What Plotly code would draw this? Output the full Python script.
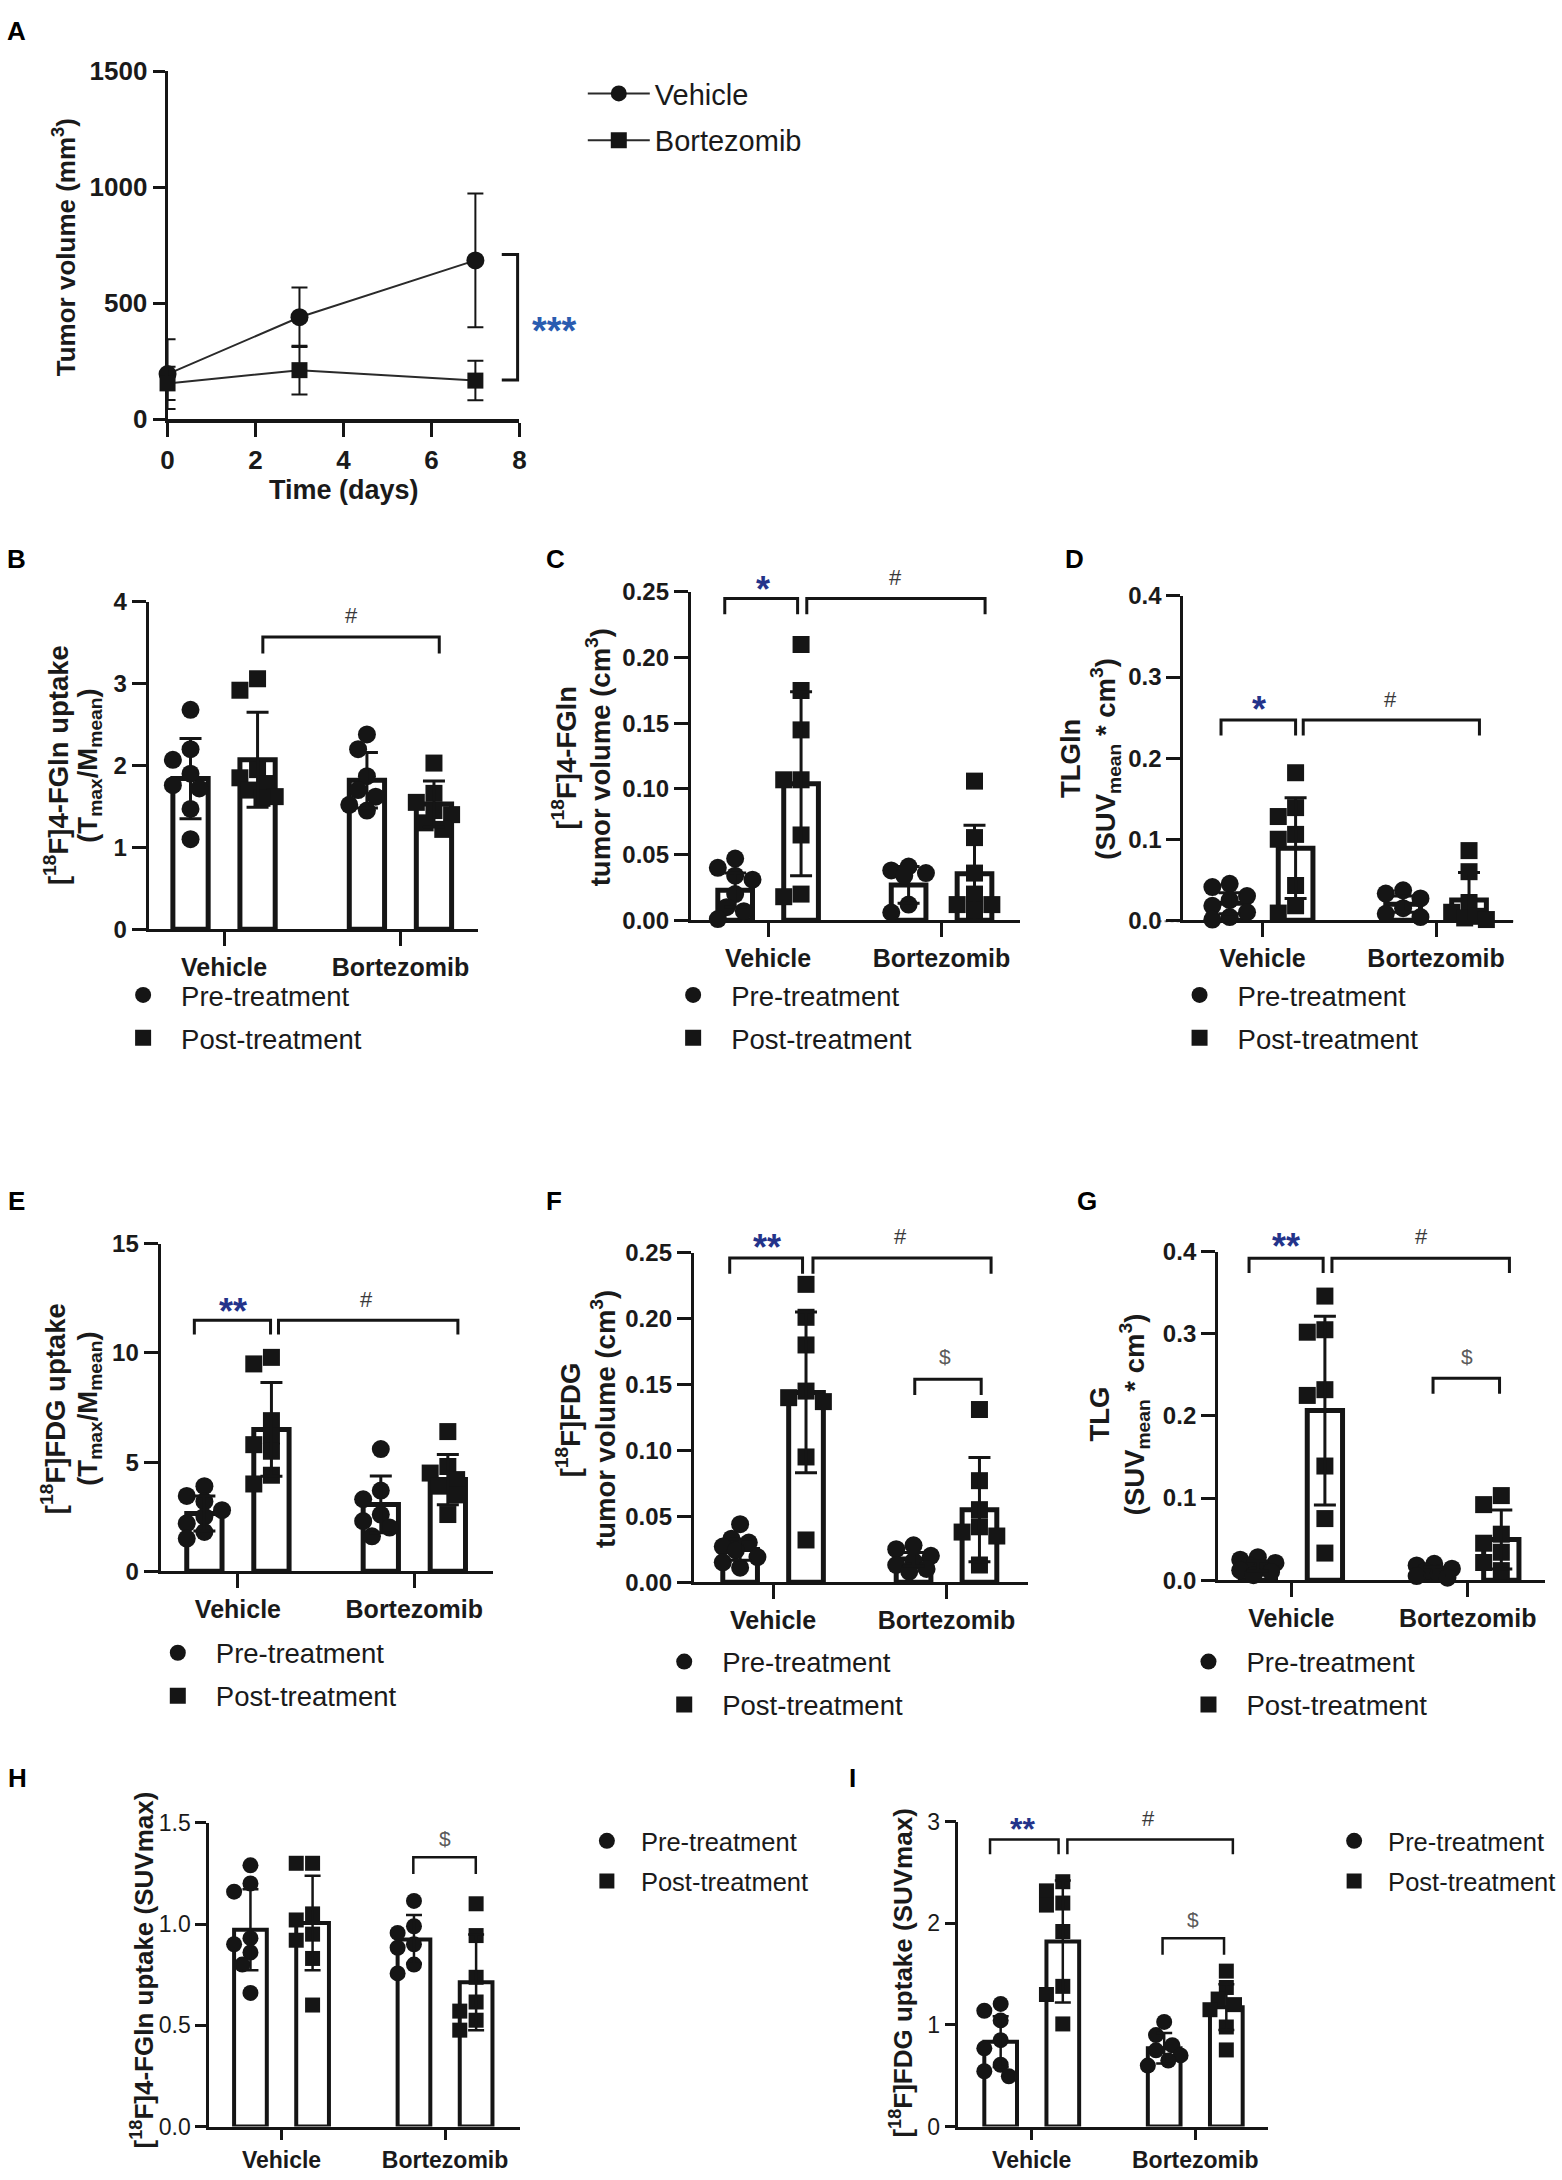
import plotly.graph_objects as go

W, H = 1562, 2180
FONT = "Liberation Sans, Arial, Helvetica, sans-serif"
INK = "#151515"
TXT = "#1a1a1a"
STAR_A = "#2a5cb0"
STAR = "#23338a"
HASH = "#3a3a3a"
DOLLAR = "#5a5a5a"

GROUPS = ["Vehicle", "Bortezomib"]
SERIES = ["Pre-treatment", "Post-treatment"]

# ---------------- Panel A : tumour volume over time ----------------
A_days = [0, 3, 7]
A_vehicle_mean = [195, 440, 685]
A_vehicle_sd = [150, 128, 288]
A_bortezomib_mean = [155, 212, 167]
A_bortezomib_sd = [72, 105, 85]

# ---------------- Panel B : [18F]4-FGln uptake (Tmax/Mmean) ----------------
B_vehicle_pre = [2.68, 2.20, 2.07, 1.90, 1.76, 1.72, 1.47, 1.10]
B_vehicle_post = [3.06, 2.92, 1.95, 1.85, 1.78, 1.70, 1.62, 1.60]
B_bortezomib_pre = [2.38, 2.20, 1.87, 1.70, 1.62, 1.52, 1.45]
B_bortezomib_post = [2.03, 1.66, 1.55, 1.45, 1.40, 1.30, 1.22]
B_mean = [1.84, 2.07, 1.82, 1.53]
B_sd = [0.49, 0.58, 0.34, 0.28]

# ---------------- Panel C : [18F]4-FGln tumour volume ----------------
C_vehicle_pre = [0.047, 0.040, 0.034, 0.031, 0.020, 0.010, 0.007, 0.001]
C_vehicle_post = [0.210, 0.175, 0.145, 0.107, 0.107, 0.065, 0.020, 0.018]
C_bortezomib_pre = [0.041, 0.038, 0.036, 0.034, 0.012, 0.006]
C_bortezomib_post = [0.106, 0.063, 0.036, 0.020, 0.012, 0.012, 0.008]
C_mean = [0.023, 0.104, 0.027, 0.0355]
C_sd = [0.013, 0.070, 0.014, 0.037]

# ---------------- Panel D : TLGln ----------------
D_vehicle_pre = [0.045, 0.041, 0.030, 0.025, 0.018, 0.010, 0.004, 0.001]
D_vehicle_post = [0.182, 0.139, 0.128, 0.106, 0.100, 0.043, 0.018, 0.009]
D_bortezomib_pre = [0.037, 0.033, 0.027, 0.015, 0.008, 0.004]
D_bortezomib_post = [0.086, 0.060, 0.022, 0.010, 0.005, 0.003, 0.001]
D_mean = [0.021, 0.089, 0.020, 0.025]
D_sd = [0.013, 0.062, 0.010, 0.034]

# ---------------- Panel E : [18F]FDG uptake (Tmax/Mmean) ----------------
E_vehicle_pre = [3.9, 3.45, 3.2, 2.8, 2.5, 2.2, 1.8, 1.5]
E_vehicle_post = [9.8, 9.5, 6.9, 6.2, 5.8, 5.5, 4.4, 4.0]
E_bortezomib_pre = [5.6, 3.7, 3.3, 2.6, 2.3, 2.0, 1.6]
E_bortezomib_post = [6.4, 4.8, 4.5, 4.2, 3.9, 3.5, 2.6]
E_mean = [2.65, 6.5, 3.06, 4.2]
E_sd = [0.8, 2.15, 1.3, 1.15]

# ---------------- Panel F : [18F]FDG tumour volume ----------------
F_vehicle_pre = [0.044, 0.033, 0.030, 0.027, 0.024, 0.019, 0.015, 0.011]
F_vehicle_post = [0.226, 0.201, 0.180, 0.145, 0.140, 0.137, 0.095, 0.032]
F_bortezomib_pre = [0.028, 0.025, 0.020, 0.016, 0.013, 0.010, 0.008]
F_bortezomib_post = [0.131, 0.077, 0.055, 0.042, 0.038, 0.035, 0.013]
F_mean = [0.0247, 0.144, 0.0175, 0.055]
F_sd = [0.008, 0.061, 0.005, 0.0395]

# ---------------- Panel G : TLG ----------------
G_vehicle_pre = [0.028, 0.025, 0.021, 0.018, 0.015, 0.012, 0.010, 0.006]
G_vehicle_post = [0.346, 0.305, 0.302, 0.232, 0.225, 0.139, 0.075, 0.033]
G_bortezomib_pre = [0.020, 0.018, 0.014, 0.011, 0.008, 0.005, 0.003]
G_bortezomib_post = [0.103, 0.092, 0.056, 0.045, 0.034, 0.0215, 0.0116]
G_mean = [0.0172, 0.2065, 0.0108, 0.0495]
G_sd = [0.006, 0.115, 0.005, 0.036]

# ---------------- Panel H : [18F]4-FGln SUVmax ----------------
H_vehicle_pre = [1.29, 1.20, 1.16, 0.93, 0.90, 0.86, 0.80, 0.66]
H_vehicle_post = [1.30, 1.30, 1.05, 1.02, 0.95, 0.92, 0.83, 0.60]
H_bortezomib_pre = [1.114, 0.989, 0.956, 0.90, 0.883, 0.80, 0.756]
H_bortezomib_post = [1.10, 0.943, 0.737, 0.615, 0.57, 0.525, 0.476]
H_mean = [0.972, 1.005, 0.924, 0.712]
H_sd = [0.20, 0.233, 0.12, 0.236]

# ---------------- Panel I : [18F]FDG SUVmax ----------------
I_vehicle_pre = [1.207, 1.14, 1.045, 0.85, 0.77, 0.608, 0.544, 0.495]
I_vehicle_post = [2.41, 2.32, 2.20, 2.18, 1.92, 1.38, 1.30, 1.01]
I_bortezomib_pre = [1.03, 0.90, 0.80, 0.75, 0.70, 0.65, 0.60]
I_bortezomib_post = [1.53, 1.369, 1.255, 1.20, 1.15, 0.98, 0.754]
I_mean = [0.835, 1.822, 0.77, 1.175]
I_sd = [0.25, 0.60, 0.15, 0.225]

SUP18 = "[<sup>18</sup>F]"

# ---------------- layout (positions/styles only) ----------------
BAR_PANELS = [
    dict(key="B", data=(B_vehicle_pre, B_vehicle_post, B_bortezomib_pre, B_bortezomib_post), mean=B_mean, sd=B_sd,
         box=(143, 475, 595, 927), cat=(219, 397), yr=(0, 4), dtick=1, fmt="", letter=(10, 552),
         titles=[(SUP18 + "4-FGln uptake", 50), ("(T<sub>max</sub>/M<sub>mean</sub>)", 83)], ty=761,
         legend=(137, 994, 1037), brackets=[(0.22, 1.22, 3.57, 3.37)], labels=[("#", 0.725, 3.84)], small=False),
    dict(key="C", data=(C_vehicle_pre, C_vehicle_post, C_bortezomib_pre, C_bortezomib_post), mean=C_mean, sd=C_sd,
         box=(690, 1022, 585, 918), cat=(768, 943), yr=(0, 0.25), dtick=0.05, fmt=".2f", letter=(553, 552),
         titles=[(SUP18 + "4-FGln", 563), ("tumor volume (cm<sup>3</sup>)", 597)], ty=753,
         legend=(692, 994, 1037),
         brackets=[(-0.25, 0.17, 0.245, 0.233), (0.223, 1.251, 0.245, 0.233)],
         labels=[("*", -0.03, 0.2586), ("#", 0.737, 0.2617)], small=False),
    dict(key="D", data=(D_vehicle_pre, D_vehicle_post, D_bortezomib_pre, D_bortezomib_post), mean=D_mean, sd=D_sd,
         box=(1187, 1520, 589, 918), cat=(1267, 1442), yr=(0, 0.4), dtick=0.1, fmt=".1f", letter=(1077, 552),
         titles=[("TLGln", 1073), ("(SUV<sub>mean</sub> * cm<sup>3</sup>)", 1108)], ty=754,
         legend=(1203, 994, 1037),
         brackets=[(-0.24, 0.19, 0.247, 0.228), (0.234, 1.25, 0.247, 0.228)],
         labels=[("*", -0.02, 0.27), ("#", 0.737, 0.274)], small=False, dotted=True),
    dict(key="E", data=(E_vehicle_pre, E_vehicle_post, E_bortezomib_pre, E_bortezomib_post), mean=E_mean, sd=E_sd,
         box=(155, 490, 1246, 1578), cat=(233, 411), yr=(0, 15), dtick=5, fmt="", letter=(10, 1203),
         titles=[(SUP18 + "FDG uptake", 47), ("(T<sub>max</sub>/M<sub>mean</sub>)", 83)], ty=1413,
         legend=(172, 1661, 1704),
         brackets=[(-0.247, 0.185, 11.5, 10.85), (0.23, 1.247, 11.5, 10.85)],
         labels=[("**", -0.03, 12.3), ("#", 0.73, 12.5)], small=False),
    dict(key="F", data=(F_vehicle_pre, F_vehicle_post, F_bortezomib_pre, F_bortezomib_post), mean=F_mean, sd=F_sd,
         box=(693, 1030, 1255, 1589), cat=(773, 948), yr=(0, 0.25), dtick=0.05, fmt=".2f", letter=(552, 1203),
         titles=[(SUP18 + "FDG", 567), ("tumor volume (cm<sup>3</sup>)", 602)], ty=1424,
         legend=(683, 1670, 1713),
         brackets=[(-0.25, 0.17, 0.246, 0.234), (0.23, 1.257, 0.246, 0.234), (0.817, 1.2, 0.154, 0.142)],
         labels=[("**", -0.034, 0.2605), ("#", 0.737, 0.263), ("$", 0.994, 0.172)], small=False),
    dict(key="G", data=(G_vehicle_pre, G_vehicle_post, G_bortezomib_pre, G_bortezomib_post), mean=G_mean, sd=G_sd,
         box=(1222, 1552, 1254, 1587), cat=(1296, 1474), yr=(0, 0.4), dtick=0.1, fmt=".1f", letter=(1090, 1203),
         titles=[("TLG", 1102), ("(SUV<sub>mean</sub> * cm<sup>3</sup>)", 1138)], ty=1419,
         legend=(1212, 1670, 1713),
         brackets=[(-0.24, 0.18, 0.392, 0.374), (0.23, 1.236, 0.392, 0.374), (0.803, 1.18, 0.246, 0.227)],
         labels=[("**", -0.03, 0.417), ("#", 0.736, 0.42), ("$", 0.994, 0.2735)], small=False),
    dict(key="H", data=(H_vehicle_pre, H_vehicle_post, H_bortezomib_pre, H_bortezomib_post), mean=H_mean, sd=H_sd,
         box=(204, 518, 1833, 2141), cat=(277, 442), yr=(0, 1.5), dtick=0.5, fmt=".1f", letter=(11, 1788),
         titles=[(SUP18 + "4-FGln uptake (SUVmax)", 137)], ty=1982,
         legend=(605, 1852, 1892), brackets=[(0.806, 1.188, 1.33, 1.247)], labels=[("$", 1.0, 1.425)], small=True),
    dict(key="I", data=(I_vehicle_pre, I_vehicle_post, I_bortezomib_pre, I_bortezomib_post), mean=I_mean, sd=I_sd,
         box=(960, 1272, 1832, 2141), cat=(1034, 1199), yr=(0, 3), dtick=1, fmt="", letter=(853, 1788),
         titles=[(SUP18 + "FDG uptake (SUVmax)", 903)], ty=1985,
         legend=(1359, 1852, 1892),
         brackets=[(-0.255, 0.164, 2.825, 2.68), (0.218, 1.23, 2.825, 2.68), (0.8, 1.176, 1.854, 1.69)],
         labels=[("**", -0.055, 3.0), ("#", 0.715, 3.04), ("$", 0.988, 2.05)], small=True),
]

OFF = 0.19

fig = go.Figure()
L = dict(width=W, height=H, margin=dict(l=0, r=0, t=0, b=0), paper_bgcolor="white",
         plot_bgcolor="white", hovermode=False, showlegend=True)
shapes, annots = [], []


def X(px):
    return px / W


def Y(py):
    return 1 - py / H


def text(px, py, s, size, color=TXT, angle=0, bold=False):
    annots.append(dict(xref="paper", yref="paper", x=X(px), y=Y(py), text=s, showarrow=False,
                       textangle=angle, xanchor="center", yanchor="middle",
                       font=dict(family=FONT, size=size, color=color, weight="bold" if bold else "normal")))


def path(pts, width, color=INK, dash=None, layer="above"):
    d = "M " + " L ".join(f"{X(a):.6f},{Y(b):.6f}" for a, b in pts)
    ln = dict(color=color, width=width)
    if dash:
        ln["dash"] = dash
    shapes.append(dict(type="path", xref="paper", yref="paper", path=d, line=ln, layer=layer))


def axis_style(lw, tl, tw, size, bold):
    return dict(showline=True, linecolor=INK, linewidth=lw, ticks="outside", ticklen=tl, tickwidth=tw,
                tickcolor=INK, showgrid=False, zeroline=False, fixedrange=True,
                tickfont=dict(family=FONT, size=size, color=TXT, weight="bold" if bold else "normal"))


def legend_cfg(sym_x, r1, r2, size, itemwidth, gap):
    return dict(x=X(sym_x - 5 - itemwidth / 2), xanchor="left", y=Y((r1 + r2) / 2), yanchor="middle",
                font=dict(family=FONT, size=size, color=TXT), itemwidth=itemwidth, tracegroupgap=gap,
                bgcolor="rgba(0,0,0,0)", borderwidth=0, orientation="v", itemsizing="trace",
                traceorder="grouped")


# ================= Panel A =================
A_X0, A_X1, A_YT, A_YB = 162, 517, 57, 410
xa = axis_style(4, 14, 3, 26, True)
xa.update(domain=[X(A_X0), X(A_X1)], range=[0, 8], tickvals=[0, 2, 4, 6, 8], anchor="y", tickangle=0)
ya = axis_style(3, 12, 3, 26, True)
ya.update(domain=[Y(A_YB), Y(A_YT)], range=[0, 1500], tickvals=[0, 500, 1000, 1500], anchor="x")
L["xaxis"], L["yaxis"] = xa, ya

for name, mean, sd, sym, size in [("Vehicle", A_vehicle_mean, A_vehicle_sd, "circle", 18),
                                  ("Bortezomib", A_bortezomib_mean, A_bortezomib_sd, "square", 16)]:
    fig.add_trace(go.Scatter(x=A_days, y=mean, name=name, mode="lines+markers",
                             line=dict(color="#2a2a2a", width=2), marker=dict(symbol=sym, size=size, color=INK),
                             error_y=dict(type="data", array=sd, color=INK, thickness=2, width=8),
                             xaxis="x", yaxis="y", legend="legend", legendgroup="A" + name, cliponaxis=False))
L["legend"] = legend_cfg(617, 80, 127, 29, 62, 6)


def A_px(u, v):
    return A_X0 + u / 8 * (A_X1 - A_X0), A_YB - v / 1500 * (A_YB - A_YT)


pts = [A_px(7.6, 710), A_px(7.96, 710), A_px(7.96, 170), A_px(7.6, 170)]
path(pts, 3)
text(552, 320, "<b>***</b>", 38, STAR_A)
text(10, 16, "<b>A</b>", 26, "black")
text(58, 235, "<b>Tumor volume (mm<sup>3</sup>)</b>", 26, TXT, -90)
text(340, 482, "<b>Time (days)</b>", 27)


# ================= bar panels =================
def spread(vals, ppx, ppy, size):
    cands = [0, -0.05, 0.05, -0.1, 0.1, -0.025, 0.025, -0.075, 0.075]
    placed, offs = [], []
    for v in vals:
        best, bestd = 0, -1.0
        for c in cands:
            if placed:
                d = min((((c - o) * ppx) ** 2 + ((v - w) * ppy) ** 2) ** 0.5 for o, w in placed)
            else:
                d = 1e9
            if d >= size * 0.85:
                best = c
                break
            if d > bestd:
                best, bestd = c, d
        placed.append((best, v))
        offs.append(best)
    return offs


for i, P in enumerate(BAR_PANELS, start=2):
    s = str(i)
    xr, yr = "x" + s, "y" + s
    x0, x1, yt, yb = P["box"]
    cv, cb = P["cat"]
    ppx = cb - cv
    xrange = [(x0 - cv) / ppx, (x1 - cv) / ppx]
    y0r, y1r = P["yr"]
    ppy = (yb - yt) / (y1r - y0r)
    small = P["small"]

    lw = 2.5 if small else 3
    xa = axis_style(lw, 11 if small else 14, lw, 23 if small else 25, True)
    xa.update(domain=[X(x0), X(x1)], range=xrange, tickvals=[0, 1], ticktext=GROUPS, anchor=yr, tickangle=0)
    ya = axis_style(lw, 11 if small else 14, lw, 23 if small else 24, not small)
    ya.update(domain=[Y(yb), Y(yt)], range=[y0r, y1r], tick0=0, dtick=P["dtick"], tickformat=P["fmt"], anchor=xr)
    L["xaxis" + s], L["yaxis" + s] = xa, ya

    pos = [-OFF, OFF, 1 - OFF, 1 + OFF]
    fig.add_trace(go.Bar(x=pos, y=P["mean"], width=0.2, xaxis=xr, yaxis=yr, showlegend=False,
                         marker=dict(color="white", line=dict(color=INK, width=4 if small else 5))))

    vp, vq, bp, bq = P["data"]
    msize = 16 if small else 18
    for k, (sym, grp_a, grp_b) in enumerate([("circle", vp, bp), ("square", vq, bq)]):
        xs, ys = [], []
        for base, vals in [(pos[k], grp_a), (pos[k + 2], grp_b)]:
            offs = spread(vals, ppx, ppy, msize)
            xs += [base + o for o in offs]
            ys += list(vals)
        fig.add_trace(go.Scatter(x=xs, y=ys, mode="markers", name=SERIES[k], xaxis=xr, yaxis=yr,
                                 marker=dict(symbol=sym, size=msize if sym == "circle" else msize - 1, color=INK,
                                             line=dict(width=0)),
                                 legend="legend" + s, legendgroup=P["key"] + str(k), cliponaxis=False))

    fig.add_trace(go.Scatter(x=pos, y=P["mean"], mode="markers", xaxis=xr, yaxis=yr, showlegend=False,
                             marker=dict(size=1, color="rgba(0,0,0,0)"), cliponaxis=False,
                             error_y=dict(type="data", array=P["sd"], color=INK,
                                          thickness=2.5 if small else 3, width=8 if small else 11)))

    lx, r1, r2 = P["legend"]
    if small:
        L["legend" + s] = legend_cfg(lx, r1, r2, 25.5, 58, 4)
    else:
        L["legend" + s] = legend_cfg(lx, r1, r2, 27.5, 66, max(0, (r2 - r1) - 38.8))

    def to_px(u, v):
        return cv + u * ppx, yb - (v - y0r) * ppy

    for (u0, u1, vt, va) in P["brackets"]:
        path([to_px(u0, va), to_px(u0, vt), to_px(u1, vt), to_px(u1, va)], 2.5 if small else 3)
    for (lab, u, v) in P["labels"]:
        px_, py_ = to_px(u, v)
        if "*" in lab:
            size = 32 if small else 36
            text(px_, py_ + 0.24 * size, "<b>" + lab + "</b>", size, STAR)
        elif lab == "#":
            text(px_, py_ + 1, lab, 22, HASH)
        else:
            text(px_, py_ + 1, lab, 21, DOLLAR)

    for (t, tx) in P["titles"]:
        text(tx, P["ty"], "<b>" + t + "</b>", 26 if small else 27.5, TXT, -90)
    text(P["letter"][0], P["letter"][1], "<b>" + P["key"] + "</b>", 26, "black")
    if P.get("dotted"):
        path([(x0 - 25, yb + 1), (x1, yb + 1)], 2, "#777777", "dot", "below")

L["shapes"] = shapes
L["annotations"] = annots
fig.update_layout(**L)
fig.write_html("out.html", config={"displayModeBar": False},
               post_script="document.body.style.margin='0px';document.body.style.overflow='hidden';")
